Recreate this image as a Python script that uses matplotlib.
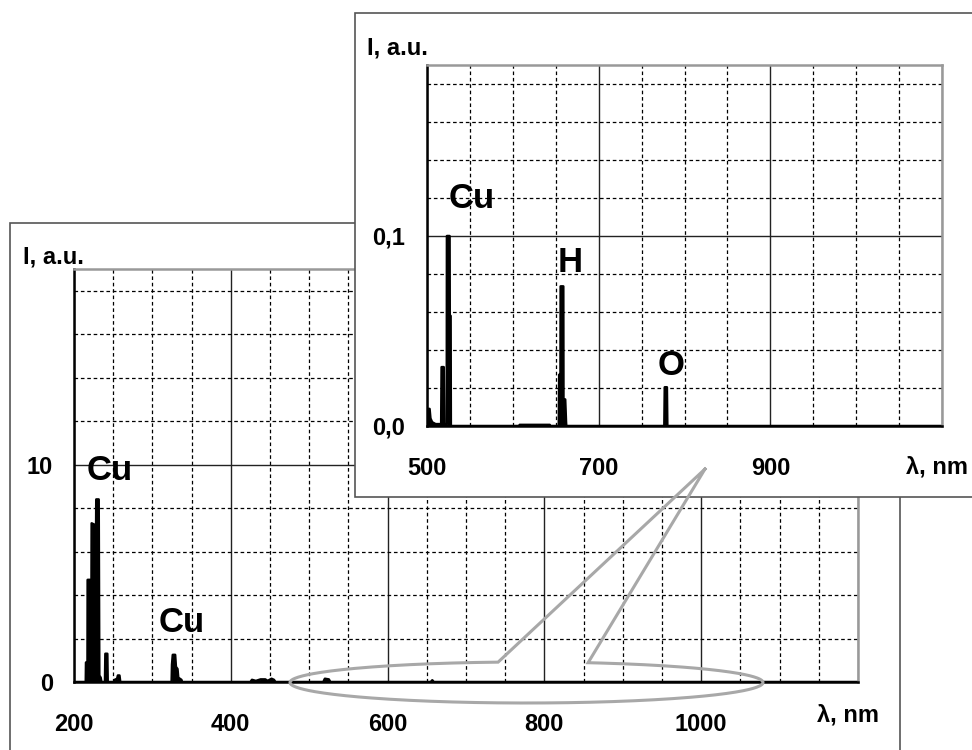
import numpy as np
import matplotlib
matplotlib.use('Agg')
import matplotlib.pyplot as plt
from matplotlib.patches import Rectangle
from matplotlib.lines import Line2D

plt.rcParams['font.family'] = ['Liberation Sans', 'DejaVu Sans']
plt.rcParams['font.weight'] = 'bold'
plt.rcParams['lines.scale_dashes'] = False

### data: full spectrum (outline of the emission lines)
main_wl = [200, 215, 215.3, 217.2, 217.4, 222.3, 222.5, 228.2, 228.4, 231.5, 232.3, 234, 235,
           239.5, 240, 242.5, 243,
           251, 252, 255, 256, 258, 259,
           324.5, 325, 326, 329, 330, 332, 333, 337, 338,
           425, 427, 432, 438, 444, 447, 452, 455, 457,
           518, 520, 525, 527,
           655, 657, 659,
           1200]
main_I = [0, 0, 0.9, 0.9, 4.7, 4.7, 7.3, 7.2, 8.4, 8.4, 0.3, 0.2, 0,
          0, 1.3, 1.3, 0,
          0, 0.1, 0.15, 0.3, 0.3, 0,
          0, 0.8, 1.25, 1.25, 0.7, 0.6, 0.2, 0.1, 0,
          0, 0.1, 0.05, 0.12, 0.12, 0.05, 0.15, 0.1, 0,
          0, 0.15, 0.12, 0,
          0, 0.08, 0,
          0]
main_xticks = [200, 400, 600, 800, 1000, 1200]
main_xlabels = ['200', '400', '600', '800', '1000', '']
main_yticks = [0, 10]
main_ylabels = ['0', '10']

### data: zoomed part 500-1100 nm
ins_wl = [500, 500.3, 503, 504, 506, 510, 516.5, 517, 519.5, 520, 523, 523.2, 526.3, 526.5, 527.5, 527.8,
          607, 608, 643, 644,
          653.5, 654, 655.5, 655.7, 658.8, 659, 661, 662, 662.3,
          776.5, 777, 779.5, 780, 1100]
ins_I = [0, 0.009, 0.009, 0.004, 0.002, 0.001, 0.001, 0.031, 0.031, 0.001, 0.001, 0.1, 0.1, 0.058, 0.058, 0,
         0, 0.0006, 0.0006, 0,
         0, 0.027, 0.027, 0.0735, 0.0735, 0.014, 0.014, 0.002, 0,
         0, 0.0204, 0.0204, 0, 0]
ins_xticks = [500, 700, 900, 1100]
ins_xlabels = ['500', '700', '900', '']
ins_yticks = [0.0, 0.1]
ins_ylabels = ['0,0', '0,1']

W, H = 972, 750
fig = plt.figure(figsize=(W / 100, H / 100), dpi=100)


def frac(x, y):
    return x / W, 1 - y / H


def rect(x0, y0, x1, y1):
    return [x0 / W, 1 - y1 / H, (x1 - x0) / W, (y1 - y0) / H]


def style_axes(ax, xmin, xmax, xmin_step, ymax, ymin_step):
    ax.set_xlim(xmin, xmax)
    ax.set_ylim(0, ymax)
    ax.set_xticks(np.arange(xmin, xmax + 1e-9, xmin_step), minor=True)
    ax.set_yticks(np.arange(0, ymax + 1e-9, ymin_step), minor=True)
    ax.grid(which='minor', color='k', lw=0.9, linestyle=(0, (2.6, 2.0)))
    ax.grid(which='major', color='#222222', lw=1.0, linestyle='-')
    ax.set_axisbelow(True)
    ax.tick_params(which='both', length=0)
    for s in ['left', 'bottom']:
        ax.spines[s].set_color('k')
        ax.spines[s].set_linewidth(1.8)
    for s in ['top', 'right']:
        ax.spines[s].set_color('#999999')
        ax.spines[s].set_linewidth(1.8)


# main frame
fig.add_artist(Rectangle(frac(10, 770), 890 / W, 547 / H, transform=fig.transFigure,
                         facecolor='white', edgecolor='#555555', lw=1.2, zorder=-2))

ax = fig.add_axes(rect(74, 269, 858, 682))
ax.set_zorder(0)
style_axes(ax, 200, 1200, 50, 19, 2)
ax.fill_between(main_wl, main_I, 0, color='k', lw=0)
ax.plot(main_wl, main_I, color='k', lw=1.8)
ax.set_xticks(main_xticks, main_xlabels)
ax.set_yticks(main_yticks, main_ylabels)
ax.tick_params(axis='x', pad=22, labelsize=17)
ax.tick_params(axis='y', pad=15, labelsize=17)
ax.text(246, 9.3, 'Cu', fontsize=25, fontweight='bold', ha='center', va='baseline')
ax.text(337, 2.3, 'Cu', fontsize=25, fontweight='bold', ha='center', va='baseline')
fig.text(23 / W, 1 - 257 / H, 'I, a.u.', fontsize=17, fontweight='bold', va='center', zorder=0.5)
fig.text(848 / W, 1 - 715 / H, 'λ, nm', fontsize=17, fontweight='bold', ha='center', va='center', zorder=0.5)

# inset frame
fig.add_artist(Rectangle(frac(355, 497), 640 / W, 484 / H, transform=fig.transFigure,
                         facecolor='white', edgecolor='#555555', lw=1.2, zorder=1))

axi = fig.add_axes(rect(427, 65, 942, 426))
axi.set_zorder(2)
style_axes(axi, 500, 1100, 50, 0.19, 0.02)
axi.fill_between(ins_wl, ins_I, 0, color='k', lw=0)
axi.plot(ins_wl, ins_I, color='k', lw=1.8)
axi.set_xticks(ins_xticks, ins_xlabels)
axi.set_yticks(ins_yticks, ins_ylabels)
axi.tick_params(axis='x', pad=22, labelsize=17)
axi.tick_params(axis='y', pad=16, labelsize=17)
axi.text(552, 0.1145, 'Cu', fontsize=25, fontweight='bold', ha='center', va='baseline')
axi.text(667, 0.0813, 'H', fontsize=25, fontweight='bold', ha='center', va='baseline')
axi.text(784, 0.0269, 'O', fontsize=25, fontweight='bold', ha='center', va='baseline')
fig.text(367 / W, 1 - 48 / H, 'I, a.u.', fontsize=17, fontweight='bold', va='center', zorder=3)
fig.text(937 / W, 1 - 467 / H, 'λ, nm', fontsize=17, fontweight='bold', ha='center', va='center', zorder=3)

# callout bubble: ellipse around 480-1080 nm with a pointer up to the inset
cx, cy, a, b = 526.5, 682.5, 236.5, 20.5
t = np.radians(np.linspace(96.9, 434.9, 300))
px = np.concatenate([[705], cx + a * np.cos(t), [705]])
py = np.concatenate([[469], cy - b * np.sin(t), [469]])
fig.add_artist(Line2D(px / W, 1 - py / H, transform=fig.transFigure,
                      color='#a8a8a8', lw=2.2, solid_joinstyle='miter', zorder=4))

plt.savefig('out.png', dpi=100)
